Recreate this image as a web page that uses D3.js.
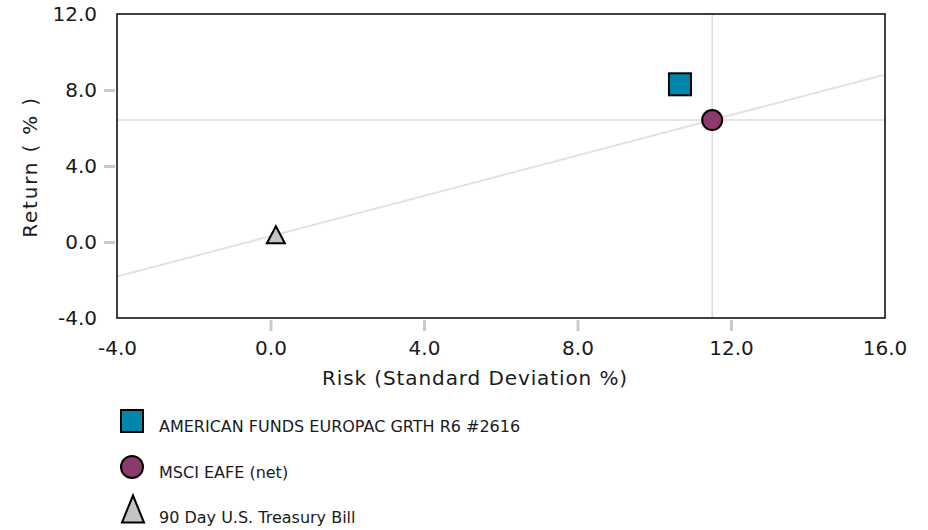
<!DOCTYPE html>
<html>
<head>
<meta charset="utf-8">
<script src="https://cdn.jsdelivr.net/npm/d3@7"></script>
<style>
  html, body { margin: 0; padding: 0; background: #fff; }
  svg { display: block; font-family: "DejaVu Sans", Verdana, sans-serif; }
</style>
</head>
<body>
<svg id="chart" width="928" height="530"></svg>
<script>
// ---- data ----
const seriesNames = ["AMERICAN FUNDS EUROPAC GRTH R6 #2616", "MSCI EAFE (net)", "90 Day U.S. Treasury Bill"];
const seriesShapes = ["square", "circle", "triangle"];
const seriesColors = ["#0086AD", "#8C3A6C", "#C4C4C4"];
const riskValues = [10.67, 11.51, 0.14];
const returnValues = [8.30, 6.42, 0.38];
const xTicks = [-4, 0, 4, 8, 12, 16];
const yTicks = [-4, 0, 4, 8, 12];
const xDomain = [-4, 16];
const yDomain = [-4, 12];
const xTitle = "Risk (Standard Deviation %)";
const yTitle = "Return ( % )";

const svg = d3.select("#chart");
const x = d3.scaleLinear().domain(xDomain).range([117, 884.5]);
const y = d3.scaleLinear().domain(yDomain).range([318, 14]);
const fmt = v => d3.format(".1f")(v).replace("\u2212", "-");

// benchmark crosshair + capital market line (through T-bill and benchmark)
const bIdx = 1, rfIdx = 2;
const slope = (returnValues[bIdx] - returnValues[rfIdx]) / (riskValues[bIdx] - riskValues[rfIdx]);
const cml = xDomain.map(v => [v, returnValues[rfIdx] + slope * (v - riskValues[rfIdx])]);

const plot = svg.append("g");
plot.append("line")
  .attr("x1", x(xDomain[0])).attr("x2", x(xDomain[1]))
  .attr("y1", y(returnValues[bIdx])).attr("y2", y(returnValues[bIdx]))
  .attr("stroke", "#dcdcdc").attr("stroke-width", 1.5);
plot.append("line")
  .attr("x1", x(riskValues[bIdx])).attr("x2", x(riskValues[bIdx]))
  .attr("y1", y(yDomain[0])).attr("y2", y(yDomain[1]))
  .attr("stroke", "#dcdcdc").attr("stroke-width", 1.5);
plot.append("path")
  .attr("d", d3.line().x(d => x(d[0])).y(d => y(d[1]))(cml))
  .attr("fill", "none").attr("stroke", "#e2e2e2").attr("stroke-width", 2);

// frame
svg.append("rect")
  .attr("x", x(xDomain[0])).attr("y", y(yDomain[1]))
  .attr("width", x(xDomain[1]) - x(xDomain[0]) + 0.5)
  .attr("height", y(yDomain[0]) - y(yDomain[1]))
  .attr("fill", "none").attr("stroke", "#000").attr("stroke-width", 1.5);

// axes
const xAxis = svg.append("g").attr("transform", "translate(0,320)")
  .call(d3.axisBottom(x).tickValues(xTicks).tickFormat(fmt).tickSizeInner(11).tickSizeOuter(0).tickPadding(10));
const yAxis = svg.append("g").attr("transform", "translate(115,0)")
  .call(d3.axisLeft(y).tickValues(yTicks).tickFormat(fmt).tickSizeInner(11).tickSizeOuter(0).tickPadding(7));
[xAxis, yAxis].forEach(g => {
  g.select(".domain").remove();
  g.selectAll(".tick line").attr("stroke", "#c6cbd0").attr("stroke-width", 3);
  g.selectAll(".tick text").attr("fill", "#1a1a1a").style("font-size", "20px")
    .style("font-family", "'DejaVu Sans', Verdana, sans-serif");
});
xAxis.selectAll(".tick").filter(d => d === xDomain[0] || d === xDomain[1]).select("line").remove();
yAxis.selectAll(".tick").filter(d => d === yDomain[0] || d === yDomain[1]).select("line").remove();

// axis titles
svg.append("text").attr("x", 475).attr("y", 385).attr("text-anchor", "middle")
  .attr("fill", "#1a1a1a").style("font-size", "20px").style("letter-spacing", "0.9px").text(xTitle);
svg.append("text").attr("transform", "translate(37,167) rotate(-90)").attr("text-anchor", "middle")
  .attr("fill", "#1a1a1a").style("font-size", "20px").style("letter-spacing", "1.8px").text(yTitle);

// marker drawing
function drawShape(g, shape, cx, cy, size, color) {
  if (shape === "square") {
    g.append("rect").attr("x", cx - size / 2).attr("y", cy - size / 2)
      .attr("width", size).attr("height", size)
      .attr("fill", color).attr("stroke", "#000").attr("stroke-width", 2);
  } else if (shape === "circle") {
    g.append("circle").attr("cx", cx).attr("cy", cy).attr("r", size / 2)
      .attr("fill", color).attr("stroke", "#000").attr("stroke-width", 2);
  } else {
    const w = size, h = size * 0.95;
    g.append("path")
      .attr("d", `M${cx},${cy - h / 2}L${cx + w / 2},${cy + h / 2}L${cx - w / 2},${cy + h / 2}Z`)
      .attr("fill", color).attr("stroke", "#000").attr("stroke-width", 2).attr("stroke-linejoin", "miter");
  }
}

const marks = svg.append("g");
const chartSizes = { square: 22, circle: 20, triangle: 18 };
riskValues.forEach((r, i) => {
  drawShape(marks, seriesShapes[i], x(r), y(returnValues[i]), chartSizes[seriesShapes[i]], seriesColors[i]);
});

// legend
const legend = svg.append("g");
const legendY = [421, 467, 509];
const legendSizes = { square: 22, circle: 22, triangle: 22 };
seriesNames.forEach((name, i) => {
  const sh = seriesShapes[i];
  if (sh === "triangle") {
    const w = 22, h = 27, cx = 133, cy = legendY[i];
    legend.append("path")
      .attr("d", `M${cx},${cy - h / 2}L${cx + w / 2},${cy + h / 2}L${cx - w / 2},${cy + h / 2}Z`)
      .attr("fill", seriesColors[i]).attr("stroke", "#000").attr("stroke-width", 2);
  } else {
    drawShape(legend, sh, 132, legendY[i], legendSizes[sh], seriesColors[i]);
  }
  legend.append("text").attr("x", 159).attr("y", [431.5, 478, 523][i])
    .attr("fill", "#1a1a1a").style("font-size", "16px").text(name);
});
</script>
</body>
</html>
